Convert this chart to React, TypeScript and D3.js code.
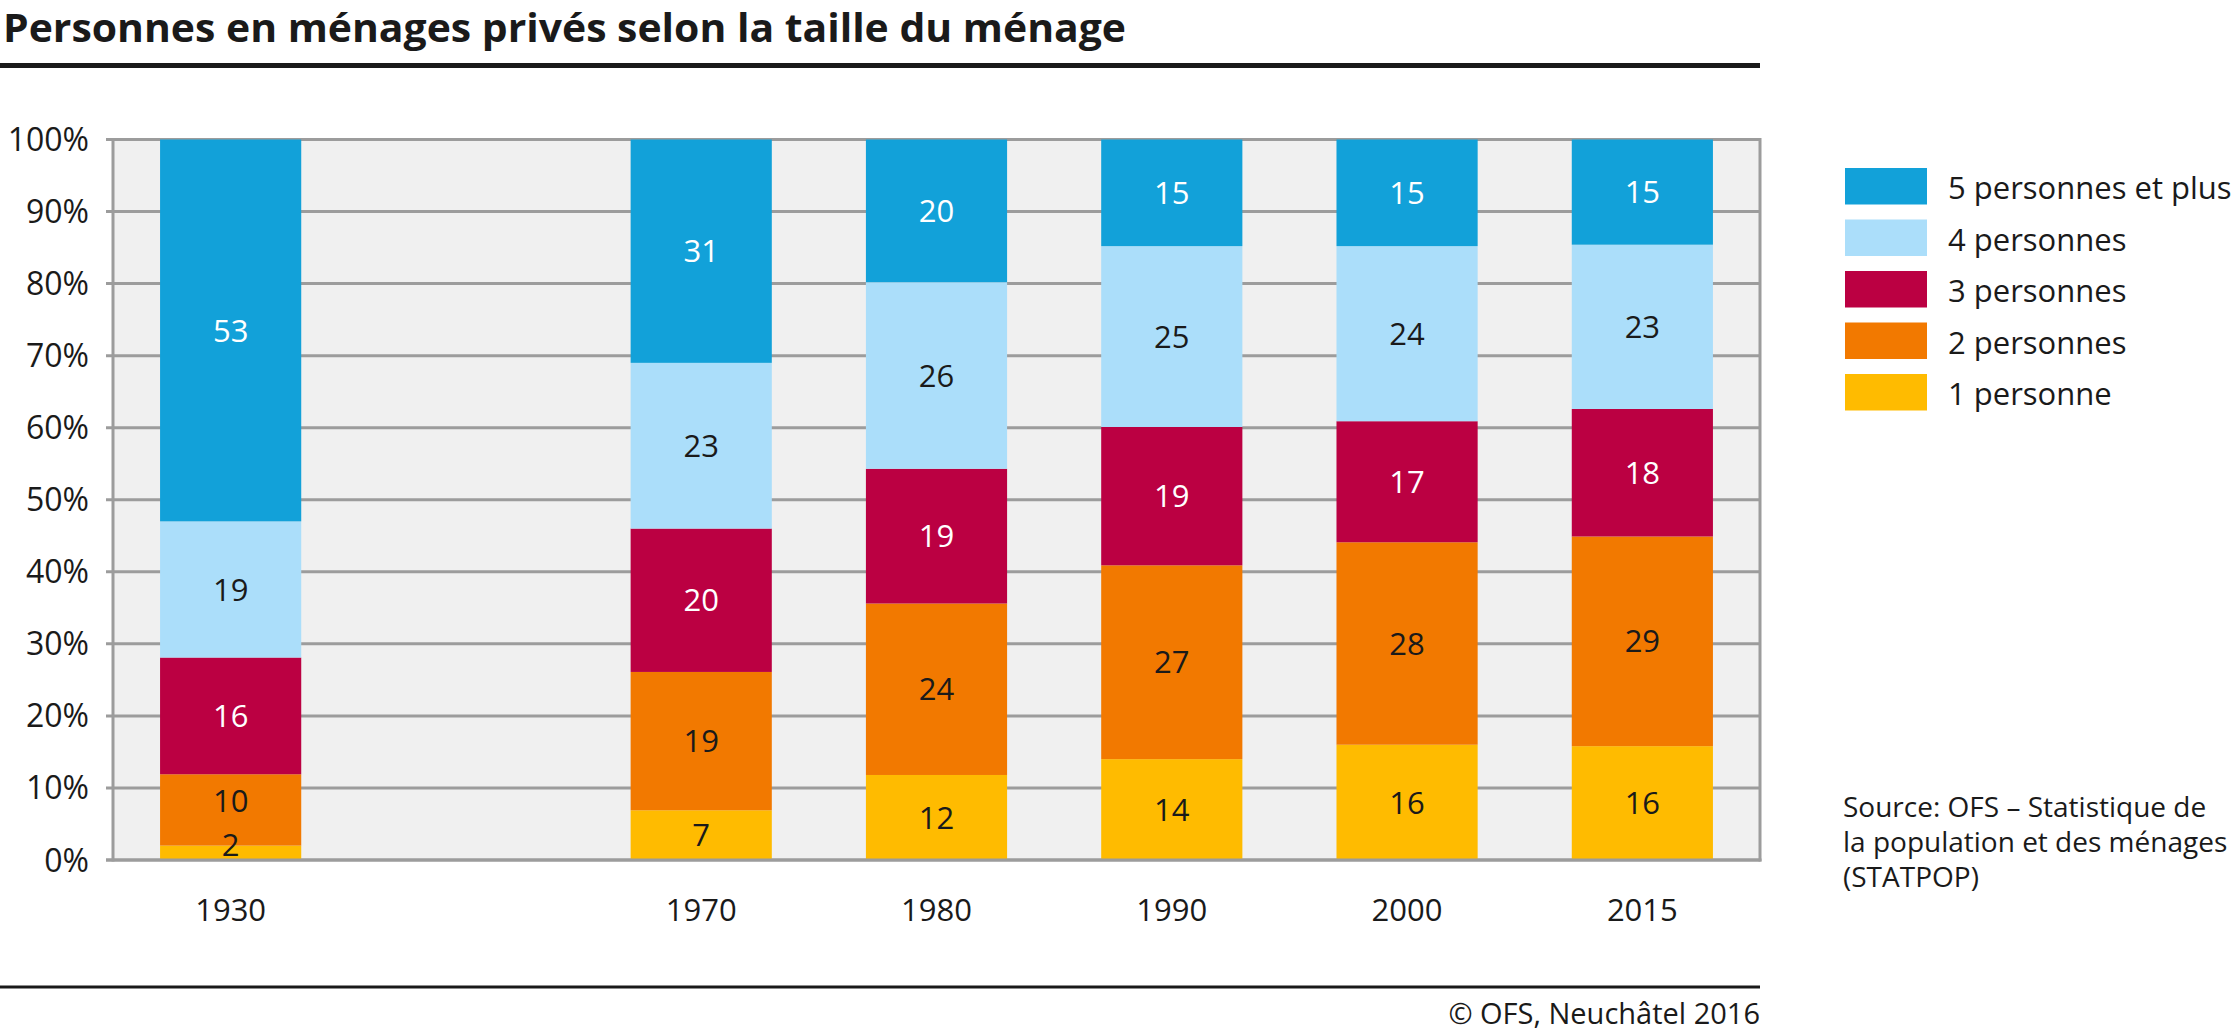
import React from "react";
import * as d3 from "d3";

const years = ["1930", "1970", "1980", "1990", "2000", "2015"];
const slots = ["1930", "gap", "1970", "1980", "1990", "2000", "2015"];
const p1 = [2.0, 6.9, 11.8, 14.0, 16.0, 15.8];
const p2 = [9.9, 19.2, 23.8, 26.9, 28.1, 29.1];
const p3 = [16.2, 19.9, 18.7, 19.2, 16.8, 17.7];
const p4 = [18.9, 23.0, 25.9, 25.1, 24.3, 22.8];
const p5 = [53.0, 31.0, 19.8, 14.8, 14.8, 14.6];
const seriesKeys = ["p1", "p2", "p3", "p4", "p5"];
const seriesNames = ["1 personne", "2 personnes", "3 personnes", "4 personnes", "5 personnes et plus"];
const seriesColors = ["#ffbb00", "#f27900", "#bb0042", "#abdefa", "#12a1d9"];
const labelColors = ["#1a1a1a", "#1a1a1a", "#ffffff", "#1a1a1a", "#ffffff"];
const yTicks = [0, 10, 20, 30, 40, 50, 60, 70, 80, 90, 100];
const title = "Personnes en ménages privés selon la taille du ménage";
const sourceLines = ["Source: OFS – Statistique de", "la population et des ménages", "(STATPOP)"];
const copyright = "© OFS, Neuchâtel 2016";

const FONT = "'Open Sans', 'DejaVu Sans', sans-serif";
const TXT = "#1a1a1a";
const GRID = "#9c9c9c";

export default function App() {
  const W = 2234, H = 1031;
  const left = 113, right = 1760, top = 139.5, bottom = 860;

  const rows = years.map((y, i) => ({ year: y, p1: p1[i], p2: p2[i], p3: p3[i], p4: p4[i], p5: p5[i] }));
  const stacked = d3.stack<any>().keys(seriesKeys)(rows);

  const x = d3.scaleBand<string>().domain(slots).range([left, right]).paddingInner(0.4).paddingOuter(0.2);
  const y = d3.scaleLinear().domain([0, 100]).range([bottom, top]);

  const labelPos: { x: number; y: number; text: string; color: string }[] = [];
  years.forEach((yr, i) => {
    let prev = Infinity;
    stacked.forEach((s, k) => {
      const d = s[i];
      let cy = (y(d[0]) + y(d[1])) / 2;
      cy = Math.min(cy, y(0) - 15, prev - 44);
      prev = cy;
      labelPos.push({
        x: (x(yr) as number) + x.bandwidth() / 2,
        y: cy,
        text: String(Math.round(d[1] - d[0])),
        color: labelColors[k],
      });
    });
  });

  const legendOrder = [4, 3, 2, 1, 0];

  return (
    <svg width={W} height={H} style={{ position: "absolute", left: 0, top: 0, background: "#fff" }} fontFamily={FONT}>
      <text x={3} y={42} fontSize={39} fontWeight={700} fill={TXT} textLength={1123} lengthAdjust="spacingAndGlyphs">{title}</text>
      <rect x={0} y={63} width={1760} height={5} fill={TXT} />

      <rect x={left} y={top} width={right - left} height={bottom - top} fill="#f0f0f0" />
      {yTicks.map((t) => (
        <g key={t}>
          <line x1={106} x2={right} y1={y(t)} y2={y(t)} stroke={GRID} strokeWidth={3} />
          <text x={89} y={y(t)} dy="0.36em" textAnchor="end" fontSize={32} fill={TXT}>{t}%</text>
        </g>
      ))}
      <line x1={left} x2={left} y1={top - 1.5} y2={bottom + 1.5} stroke={GRID} strokeWidth={3} />
      <line x1={right} x2={right} y1={top - 1.5} y2={bottom + 1.5} stroke={GRID} strokeWidth={3} />

      {stacked.map((s, k) => (
        <g key={k} fill={seriesColors[k]}>
          {s.map((d, i) => (
            <rect key={i} x={x(years[i])} y={y(d[1])} width={x.bandwidth()} height={y(d[0]) - y(d[1])} />
          ))}
        </g>
      ))}
      <line x1={106} x2={right + 1.5} y1={bottom} y2={bottom} stroke={GRID} strokeWidth={3} />

      {labelPos.map((l, i) => (
        <text key={i} x={l.x} y={l.y} dy="0.36em" textAnchor="middle" fontSize={31} fill={l.color}>{l.text}</text>
      ))}

      {years.map((yr) => (
        <text key={yr} x={(x(yr) as number) + x.bandwidth() / 2} y={921} textAnchor="middle" fontSize={31} fill={TXT}>{yr}</text>
      ))}

      {legendOrder.map((k, j) => (
        <g key={k} transform={`translate(1845, ${168 + j * 51.5})`}>
          <rect x={0} y={0} width={82} height={36.5} fill={seriesColors[k]} />
          <text x={103} y={31} fontSize={31} fill={TXT}>{seriesNames[k]}</text>
        </g>
      ))}

      {sourceLines.map((s, i) => (
        <text key={i} x={1843} y={817 + i * 35} fontSize={28} fill={TXT}>{s}</text>
      ))}

      <rect x={0} y={985.5} width={1760} height={3} fill={TXT} />
      <text x={1760} y={1024} textAnchor="end" fontSize={29} fill={TXT}>{copyright}</text>
    </svg>
  );
}
